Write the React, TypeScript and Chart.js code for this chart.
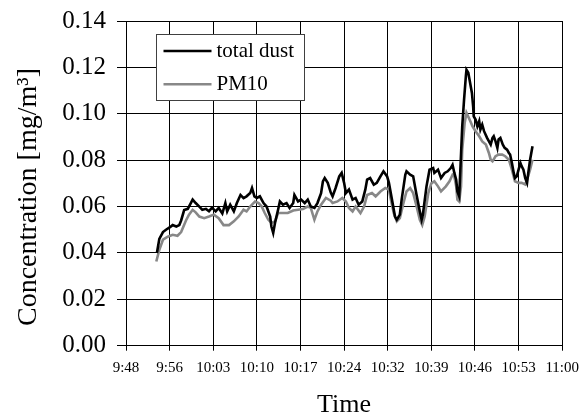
import React, { useEffect, useRef } from "react";
import { Chart, registerables } from "chart.js";

Chart.register(...registerables);

// Minutes elapsed since 9:48
const dustMinutes = [
  5.1, 5.5, 6.1, 6.6, 7.2, 7.7, 8.3, 8.8, 9.1, 9.6, 10.2, 10.7, 11.0, 11.5, 12.1, 12.6, 13.2, 13.7, 14.2, 14.8,
  15.3, 15.9, 16.4, 16.7, 17.2, 17.8, 18.3, 18.9, 19.4, 19.9, 20.5, 20.8, 21.2, 21.6, 22.1, 22.7, 23.2, 23.8, 24.0, 24.3,
  24.6, 25.1, 25.4, 25.9, 26.5, 27.0, 27.6, 27.8, 28.4, 28.9, 29.5, 30.0, 30.5, 31.1, 31.6, 32.2, 32.5, 32.8, 33.3, 33.8,
  34.1, 34.6, 35.2, 35.6, 36.0, 36.3, 36.8, 37.4, 37.9, 38.4, 39.0, 39.5, 39.8, 40.3, 40.9, 41.4, 42.0, 42.5, 43.1, 43.4,
  43.9, 44.4, 44.7, 45.2, 45.5, 46.1, 46.3, 46.9, 47.4, 47.9, 48.5, 48.8, 49.0, 49.6, 50.1, 50.7, 50.9, 51.5, 52.0, 52.6,
  53.1, 53.6, 53.9, 54.2, 54.5, 54.7, 55.0, 55.5, 55.8, 56.1, 56.2, 56.5, 56.7, 56.9, 57.1, 57.3, 57.4, 57.7, 58.0, 58.3,
  58.5, 58.8, 59.1, 59.6, 60.2, 60.5, 60.7, 61.0, 61.3, 61.5, 61.8, 62.2, 62.5, 62.9, 63.2, 63.4, 63.7, 64.0, 64.2, 64.5,
  64.8, 65.1, 65.3, 65.6, 65.9, 66.2, 66.4, 66.7, 67.1,
];
const dustConc = [
  0.040, 0.046, 0.049, 0.050, 0.051, 0.052, 0.0514, 0.052, 0.054, 0.0585, 0.059, 0.0615, 0.063, 0.0615, 0.060, 0.0586, 0.059, 0.058, 0.0595, 0.0579,
  0.0594, 0.057, 0.0615, 0.0579, 0.0608, 0.0579, 0.0615, 0.065, 0.0636, 0.0644, 0.0658, 0.068, 0.0644, 0.0637, 0.0644, 0.0615, 0.060, 0.0557, 0.0514, 0.0486,
  0.053, 0.0586, 0.0622, 0.0608, 0.0615, 0.0594, 0.0615, 0.065, 0.0622, 0.063, 0.0615, 0.063, 0.060, 0.0594, 0.0615, 0.0658, 0.0708, 0.0723, 0.0702, 0.066,
  0.0644, 0.068, 0.073, 0.0745, 0.0702, 0.0658, 0.0673, 0.063, 0.0637, 0.0608, 0.0622, 0.0673, 0.0716, 0.0723, 0.0694, 0.0702, 0.073, 0.0752, 0.073, 0.0702,
  0.063, 0.0557, 0.0543, 0.0565, 0.063, 0.0737, 0.0752, 0.0737, 0.073, 0.0658, 0.0579, 0.0543, 0.0565, 0.0687, 0.0759, 0.0766, 0.0745, 0.0759, 0.0723, 0.0745,
  0.0752, 0.0766, 0.078, 0.0745, 0.0716, 0.0665, 0.0644, 0.0946, 0.106, 0.1162, 0.119, 0.1177, 0.1148, 0.1119, 0.109, 0.1032, 0.0989, 0.0975, 0.0946, 0.0968,
  0.0932, 0.0953, 0.0925, 0.0896, 0.0867, 0.0896, 0.0903, 0.0881, 0.0853, 0.0889, 0.0896, 0.0867, 0.0853, 0.0845, 0.0831, 0.0824, 0.0788, 0.0745, 0.0723, 0.073,
  0.0759, 0.0788, 0.0774, 0.0759, 0.0723, 0.0702, 0.0745, 0.0802, 0.086,
];

const pm10Minutes = [
  5.0, 5.5, 6.1, 6.9, 7.7, 8.5, 9.1, 9.9, 10.4, 11.0, 11.5, 12.1, 12.9, 13.7, 14.5, 15.3, 16.1, 17.0, 17.8, 18.6,
  19.4, 19.9, 20.5, 21.3, 21.9, 22.4, 22.9, 23.5, 24.0, 24.6, 25.1, 25.9, 26.7, 27.6, 28.4, 29.2, 30.0, 30.5, 31.1, 31.6,
  32.2, 33.0, 33.8, 34.1, 34.9, 35.7, 36.3, 36.8, 37.4, 37.9, 38.7, 39.3, 39.8, 40.6, 41.2, 42.0, 42.8, 43.4, 43.6, 44.2,
  44.7, 45.2, 45.8, 46.3, 46.9, 47.4, 47.9, 48.5, 48.9, 49.3, 49.9, 50.4, 50.9, 51.5, 52.0, 52.8, 53.4, 53.9, 54.2, 54.5,
  54.7, 55.0, 55.3, 55.5, 55.9, 56.2, 56.6, 57.2, 57.7, 58.3, 58.8, 59.4, 59.9, 60.2, 60.5, 61.0, 61.5, 62.1, 62.6, 63.2,
  63.7, 64.2, 64.8, 65.3, 65.9, 66.2, 66.7, 67.1,
];
const pm10Conc = [
  0.0363, 0.0413, 0.0457, 0.047, 0.0478, 0.0474, 0.049, 0.054, 0.0565, 0.0586, 0.0575, 0.0557, 0.055, 0.0557, 0.0565, 0.055, 0.052, 0.052, 0.0536, 0.0557,
  0.0586, 0.0579, 0.060, 0.0622, 0.0615, 0.060, 0.0572, 0.0543, 0.053, 0.0536, 0.0572, 0.0572, 0.0572, 0.0583, 0.0586, 0.0589, 0.060, 0.0594, 0.0543, 0.0579,
  0.0608, 0.0637, 0.0625, 0.0615, 0.0622, 0.0637, 0.0622, 0.0594, 0.0579, 0.060, 0.0572, 0.060, 0.065, 0.0658, 0.0644, 0.0665, 0.068, 0.0673, 0.0644, 0.0572,
  0.0536, 0.055, 0.0615, 0.0665, 0.068, 0.0658, 0.0608, 0.0543, 0.052, 0.0557, 0.0658, 0.070, 0.0709, 0.0687, 0.0665, 0.0687, 0.0709, 0.0737, 0.073, 0.0687,
  0.063, 0.0622, 0.0687, 0.0845, 0.096, 0.1004, 0.0982, 0.0946, 0.0925, 0.0903, 0.0881, 0.0867, 0.0831, 0.0802, 0.0795, 0.0817, 0.0824, 0.0824, 0.0817, 0.0802,
  0.0759, 0.0709, 0.0702, 0.0702, 0.0695, 0.0716, 0.0759, 0.0802,
];

const timeTickMinutes = [0, 7.2, 14.4, 21.6, 28.8, 36, 43.2, 50.4, 57.6, 64.8, 72];
const timeTickLabels = ["9:48", "9:56", "10:03", "10:10", "10:17", "10:24", "10:32", "10:39", "10:46", "10:53", "11:00"];
const concTicks = [0, 0.02, 0.04, 0.06, 0.08, 0.1, 0.12, 0.14];
const seriesNames = ["total dust", "PM10"];
const xTitle = "Time";
const yTitle = "Concentration [mg/m³]";

const SERIF = "'Liberation Serif', 'Times New Roman', serif";

const boxLegend = {
  id: "boxLegend",
  afterDraw(chart: any) {
    const { ctx, chartArea } = chart;
    const x0 = Math.round(chartArea.left + 30) + 0.5;
    const y0 = Math.round(chartArea.top + 13) + 0.5;
    const w = 148;
    const h = 66;
    ctx.save();
    ctx.fillStyle = "#ffffff";
    ctx.fillRect(x0, y0, w, h);
    ctx.strokeStyle = "#404040";
    ctx.lineWidth = 1;
    ctx.strokeRect(x0, y0, w, h);
    chart.data.datasets.forEach((ds: any, i: number) => {
      const y = y0 + 16.5 + i * 33.3;
      ctx.strokeStyle = ds.borderColor;
      ctx.lineWidth = ds.borderWidth;
      ctx.beginPath();
      ctx.moveTo(x0 + 7, y);
      ctx.lineTo(x0 + 55, y);
      ctx.stroke();
      ctx.fillStyle = "#000";
      ctx.font = `21px ${SERIF}`;
      ctx.textAlign = "left";
      ctx.textBaseline = "middle";
      ctx.fillText(ds.label, x0 + 60, y);
    });
    ctx.restore();
  },
};

const yAxisTitle = {
  id: "yAxisTitle",
  afterDraw(chart: any) {
    const { ctx } = chart;
    ctx.save();
    ctx.translate(29, 197);
    ctx.rotate(-Math.PI / 2);
    ctx.fillStyle = "#000";
    ctx.font = `28px ${SERIF}`;
    ctx.textAlign = "center";
    ctx.textBaseline = "middle";
    ctx.fillText(yTitle, 0, 0);
    ctx.restore();
  },
};

export default function App() {
  const canvasRef = useRef<HTMLCanvasElement | null>(null);

  useEffect(() => {
    const canvas = canvasRef.current;
    if (!canvas) return;
    const chart = new Chart(canvas, {
      type: "line",
      data: {
        datasets: [
          {
            label: seriesNames[0],
            data: dustMinutes.map((m, i) => ({ x: m, y: dustConc[i] })),
            borderColor: "#000000",
            backgroundColor: "#000000",
            borderWidth: 2.6,
            pointRadius: 0,
            tension: 0,
          },
          {
            label: seriesNames[1],
            data: pm10Minutes.map((m, i) => ({ x: m, y: pm10Conc[i] })),
            borderColor: "#888888",
            backgroundColor: "#888888",
            borderWidth: 2.6,
            pointRadius: 0,
            tension: 0,
          },
        ],
      },
      options: {
        responsive: false,
        animation: false,
        events: [],
        layout: { padding: { left: 0, right: 19.3, top: 21, bottom: 0 } },
        plugins: {
          legend: { display: false },
          tooltip: { enabled: false },
        },
        scales: {
          x: {
            type: "linear",
            min: timeTickMinutes[0],
            max: timeTickMinutes[timeTickMinutes.length - 1],
            afterBuildTicks: (scale: any) => {
              scale.ticks = timeTickMinutes.map((v) => ({ value: v }));
            },
            afterFit: (scale: any) => {
              scale.height = 73.3;
            },
            ticks: {
              autoSkip: false,
              maxRotation: 0,
              padding: 8,
              color: "#000",
              font: { family: SERIF, size: 15 },
              callback: (v: any) => {
                const idx = timeTickMinutes.findIndex((t) => Math.abs(t - Number(v)) < 0.01);
                return idx >= 0 ? timeTickLabels[idx] : "";
              },
            },
            grid: { color: "#000", lineWidth: 1, tickLength: 5, drawTicks: true },
            border: { color: "#000", width: 1 },
            title: {
              display: true,
              text: xTitle,
              color: "#000",
              font: { family: SERIF, size: 26, lineHeight: 1 },
              padding: { top: 0, bottom: 1 },
            },
          },
          y: {
            type: "linear",
            min: concTicks[0],
            max: concTicks[concTicks.length - 1],
            afterBuildTicks: (scale: any) => {
              scale.ticks = concTicks.map((v) => ({ value: v }));
            },
            afterFit: (scale: any) => {
              scale.width = 126;
            },
            ticks: {
              padding: 11,
              color: "#000",
              font: { family: SERIF, size: 25, lineHeight: 0.4 },
              callback: (v: any) => Number(v).toFixed(2),
            },
            grid: { color: "#000", lineWidth: 1, tickLength: 9, drawTicks: true },
            border: { color: "#000", width: 1 },
          },
        },
      },
      plugins: [boxLegend, yAxisTitle],
    } as any);
    return () => chart.destroy();
  }, []);

  return (
    <div style={{ position: "absolute", left: 0, top: 0, width: 587, height: 419, background: "#fff" }}>
      <canvas ref={canvasRef} width={587} height={419} style={{ display: "block" }} />
    </div>
  );
}
